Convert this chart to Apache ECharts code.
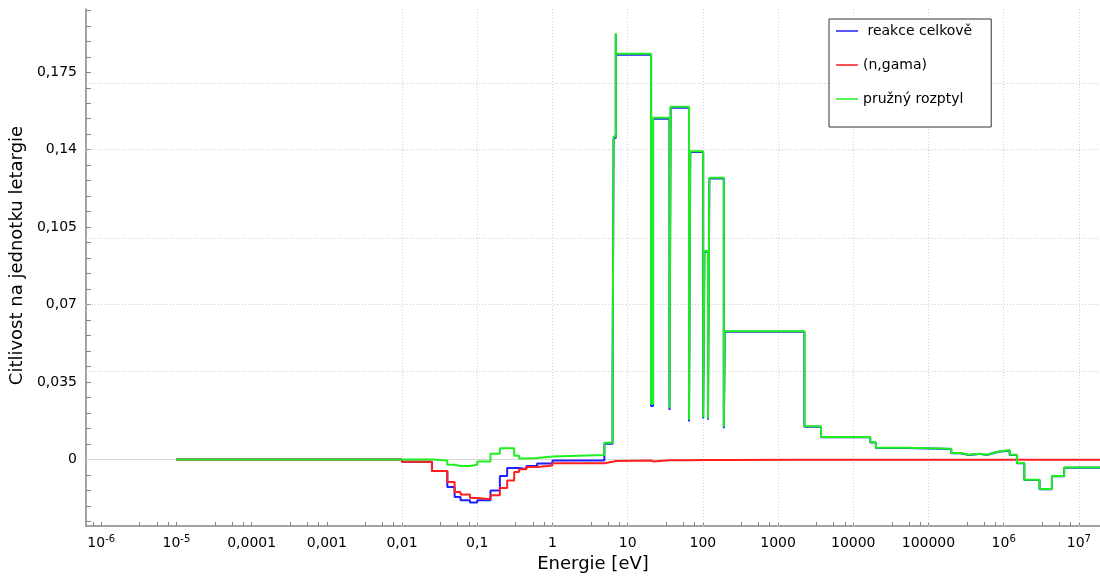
<!DOCTYPE html>
<html>
<head>
<meta charset="utf-8">
<script src="https://cdn.jsdelivr.net/npm/echarts@6/dist/echarts.min.js"></script>
<style>
  html, body { margin: 0; padding: 0; background: #fff; }
  #chart { width: 1100px; height: 578px; }
</style>
</head>
<body>
<div id="chart"></div>
<script>
// hranice energetickych grup [eV]
var edges = [1e-5, 0.01, 0.025, 0.04, 0.05, 0.06, 0.08, 0.1, 0.15, 0.2, 0.25, 0.31, 0.36, 0.45, 0.625, 1,
  4.9, 6.3, 6.5, 6.95, 7.0, 20.5, 21.8, 36, 37.3, 65.5, 68, 101, 105, 117, 122, 190, 196,
  2240, 3730, 16800, 20000, 50000, 201000, 267000, 344000, 476000, 603000, 738000, 859000,
  1.2e6, 1.5e6, 1.88e6, 3.0e6, 4.38e6, 6.37e6, 2e7]

// citlivost v kazde grupe
var celkove = [0, -0.0011, -0.0052, -0.0125, -0.017, -0.0185, -0.0195, -0.0185, -0.014, -0.0075, -0.0039,
  -0.0039, -0.0043, -0.003, -0.0018, -0.0005, 0.0071, 0.0318, 0.1453, 0.192, 0.1829, 0.0242, 0.154,
  0.0223, 0.159, 0.0171, 0.139, 0.0185, 0.0939, 0.0179, 0.127, 0.0141, 0.0577, 0.0148, 0.01, 0.0077,
  0.0052, 0.0047, 0.0028, 0.002, 0.0025, 0.002, 0.0029, 0.0035, 0.004, 0.002, -0.0017, -0.0093,
  -0.0135, -0.0076, -0.0038]
var zachyt = [0, -0.0011, -0.0052, -0.0102, -0.0147, -0.0159, -0.0174, -0.018, -0.0162, -0.0129, -0.0095,
  -0.0057, -0.0045, -0.0034, -0.0027, -0.0017, -0.0011, -0.0008, -0.0007, -0.0007, -0.0005, -0.0009,
  -0.0004, -0.0009, -0.0004, -0.0008, -0.0003, -0.0006, -0.0003, -0.0005, -0.0003, -0.0005, -0.0002,
  -0.0002, -0.0001, -0.0001, -0.0001, -0.0001, -0.0001, -0.0001, -0.0001, -0.0001, -0.0001, -0.0001,
  -0.0001, -0.0001, -0.0001, -0.0001, -0.0001, -0.0001, -0.0001]
var pruzny = [0, 0, -0.0005, -0.0024, -0.003, -0.003, -0.0024, -0.0009, 0.0026, 0.0051, 0.0051,
  0.0017, 0.0004, 0.0006, 0.0013, 0.002, 0.0075, 0.0322, 0.146, 0.1927, 0.1834, 0.0251, 0.1544,
  0.0232, 0.1594, 0.0179, 0.1393, 0.0191, 0.0942, 0.0184, 0.1273, 0.0146, 0.0579, 0.015, 0.0101,
  0.0078, 0.0053, 0.0048, 0.0029, 0.0021, 0.0026, 0.0021, 0.003, 0.0036, 0.0041, 0.0021, -0.0016,
  -0.0092, -0.0134, -0.0075, -0.0037]

var xLabelValues = [1e-6, 1e-5, 1e-4, 1e-3, 0.01, 0.1, 1, 10, 100, 1000, 1e4, 1e5, 1e6, 1e7]
var xLabels = ['{b|10}{s|-6}', '{b|10}{s|-5}', '{b|0,0001}', '{b|0,001}', '{b|0,01}', '{b|0,1}', '{b|1}',
  '{b|10}', '{b|100}', '{b|1000}', '{b|10000}', '{b|100000}', '{b|10}{s|6}', '{b|10}{s|7}']
var yLabelValues = [0, 0.035, 0.07, 0.105, 0.14, 0.175]
var yLabels = ['0', '0,035', '0,07', '0,105', '0,14', '0,175']

var font = 'DejaVu Sans'
var axisGrey = '#858585'

// vedlejsi znacky na osach
var xTicks = xLabelValues.slice()
for (var d = -7; d <= 7; d++) {
  for (var k = 1; k <= 3; k++) xTicks.push((1 + 2.25 * k) * Math.pow(10, d))
}
var yTicks = []
for (var j = -4; j <= 29; j++) yTicks.push(+(j * 0.007).toFixed(3))

function steps(vals) {
  var pts = []
  for (var i = 0; i < vals.length; i++) pts.push([edges[i], vals[i]])
  pts.push([edges[vals.length], vals[vals.length - 1]])
  return pts
}

function lineSeries(name, vals, color) {
  return {
    name: name,
    type: 'line',
    step: 'end',
    symbol: 'none',
    data: steps(vals),
    lineStyle: { width: 2, color: color },
    itemStyle: { color: color },
    z: 3
  }
}

var gridLine = { type: [1, 2], color: '#cdcdcd', width: 1 }
var markData = []
xLabelValues.forEach(function (v) { markData.push({ xAxis: v }) })
yLabelValues.slice(1).forEach(function (v) { markData.push({ yAxis: v }) })
markData.push({ yAxis: 0, lineStyle: { type: 'solid', color: '#d6d6d6', width: 1 } })

var myChart = echarts.init(document.getElementById('chart'))
myChart.setOption({
  animation: false,
  textStyle: { fontFamily: font },
  grid: { left: 82, right: 0, top: 9, bottom: 51 },
  legend: {
    data: [' reakce celkově', '(n,gama)', 'pružný rozptyl'],
    orient: 'vertical',
    left: 829,
    top: 19,
    padding: [5, 19, 21, 7],
    itemWidth: 22,
    itemHeight: 14,
    itemGap: 20,
    icon: 'path://M0,0M0,6.25L22,6.25L22,7.75L0,7.75ZM22,14',
    borderColor: '#333',
    borderWidth: 1,
    backgroundColor: '#fff',
    textStyle: { fontSize: 14, color: '#000', fontFamily: font }
  },
  xAxis: {
    type: 'log',
    logBase: 10,
    min: Math.pow(10, -6.2026),
    max: Math.pow(10, 7.281),
    name: 'Energie [eV]',
    nameLocation: 'middle',
    nameGap: 29,
    nameTextStyle: { fontSize: 18, color: '#000', fontFamily: font },
    axisLine: { show: true, onZero: false, lineStyle: { color: axisGrey, width: 1.5 } },
    axisTick: { show: true, inside: true, length: 4, customValues: xTicks, lineStyle: { color: axisGrey } },
    axisLabel: {
      customValues: xLabelValues,
      color: '#000',
      margin: 8,
      formatter: function (v) { return xLabels[Math.round(Math.log10(v)) + 6] },
      rich: {
        b: { fontSize: 14, lineHeight: 18, color: '#000', fontFamily: font },
        s: { fontSize: 10, verticalAlign: 'top', color: '#000', fontFamily: font }
      }
    },
    splitLine: { show: false },
    minorTick: { show: false }
  },
  yAxis: {
    type: 'value',
    min: -0.0301,
    max: 0.2036,
    name: 'Citlivost na jednotku letargie',
    nameLocation: 'middle',
    nameGap: 50,
    nameTextStyle: { fontSize: 18, color: '#000', fontFamily: font, padding: [0, 0, 0, 24] },
    axisLine: { show: true, lineStyle: { color: axisGrey, width: 1.5 } },
    axisTick: { show: true, inside: true, length: 5, customValues: yTicks, lineStyle: { color: axisGrey } },
    axisLabel: {
      customValues: yLabelValues,
      fontSize: 14,
      color: '#000',
      margin: 9,
      formatter: function (v) { return yLabels[yLabelValues.indexOf(+v.toFixed(3))] }
    },
    splitLine: { show: false }
  },
  series: [
    {
      name: 'mrizka',
      type: 'line',
      data: [],
      silent: true,
      z: 1,
      markLine: {
        silent: true,
        z: 1,
        symbol: ['none', 'none'],
        label: { show: false },
        lineStyle: gridLine,
        data: markData
      }
    },
    lineSeries(' reakce celkově', celkove, '#1f1fff'),
    lineSeries('(n,gama)', zachyt, '#ff1f1f'),
    lineSeries('pružný rozptyl', pruzny, '#1fee1f')
  ]
})
</script>
</body>
</html>
